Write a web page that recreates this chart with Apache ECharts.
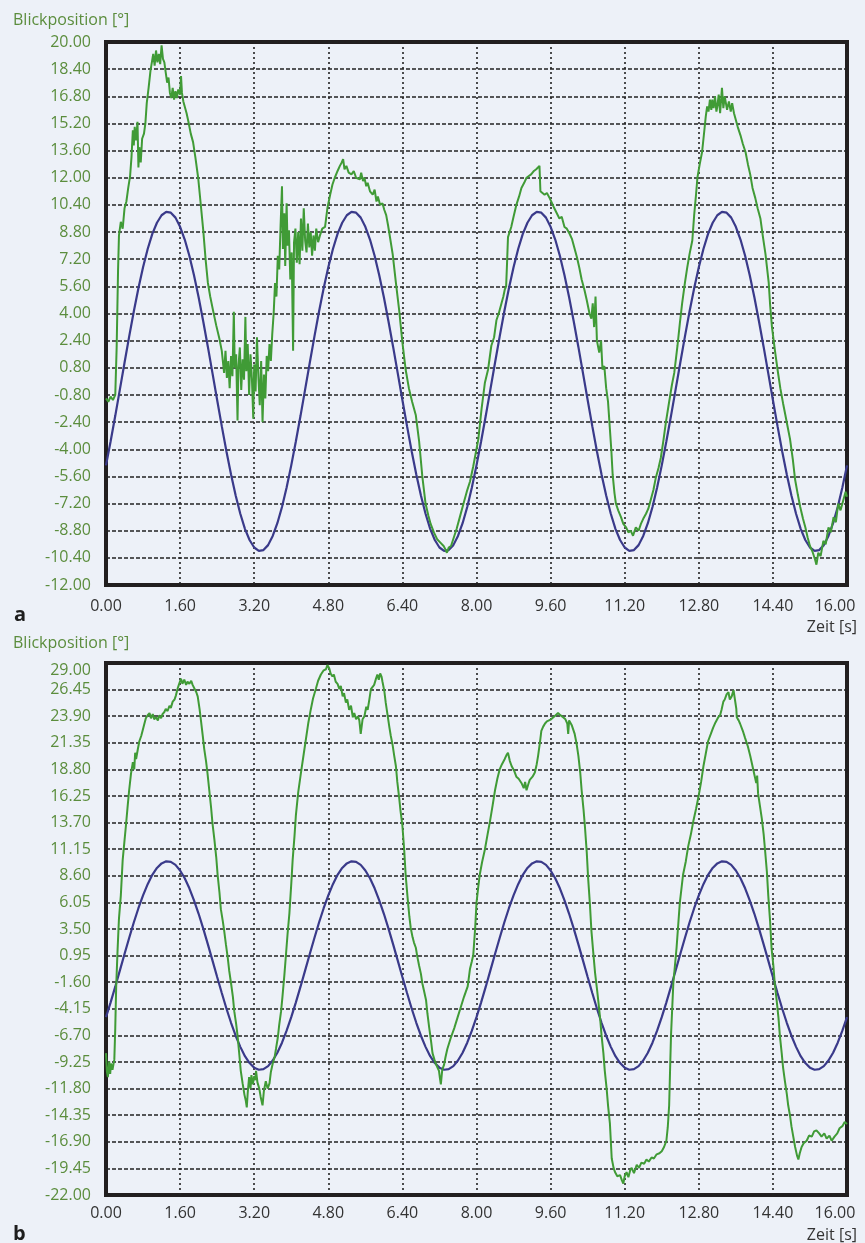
<!DOCTYPE html>
<html><head><meta charset="utf-8">
<script src="https://cdn.jsdelivr.net/npm/echarts@6/dist/echarts.min.js"></script>
<style>html,body{margin:0;padding:0;background:#edf1f8;}#c{width:865px;height:1243px;}</style>
</head><body><div id="c"></div>
<script>
// time axis of the stimulus curve [s]
const stimulusTime = [0,0.1,0.2,0.3,0.4,0.5,0.6,0.7,0.8,0.9,1.0,1.1,1.2,1.3,1.4,1.5,1.6,1.7,1.8,1.9,
2.0,2.1,2.2,2.3,2.4,2.5,2.6,2.7,2.8,2.9,3.0,3.1,3.2,3.3,3.4,3.5,3.6,3.7,3.8,3.9,
4.0,4.1,4.2,4.3,4.4,4.5,4.6,4.7,4.8,4.9,5.0,5.1,5.2,5.3,5.4,5.5,5.6,5.7,5.8,5.9,
6.0,6.1,6.2,6.3,6.4,6.5,6.6,6.7,6.8,6.9,7.0,7.1,7.2,7.3,7.4,7.5,7.6,7.7,7.8,7.9,
8.0,8.1,8.2,8.3,8.4,8.5,8.6,8.7,8.8,8.9,9.0,9.1,9.2,9.3,9.4,9.5,9.6,9.7,9.8,9.9,
10.0,10.1,10.2,10.3,10.4,10.5,10.6,10.7,10.8,10.9,11.0,11.1,11.2,11.3,11.4,11.5,11.6,11.7,11.8,11.9,
12.0,12.1,12.2,12.3,12.4,12.5,12.6,12.7,12.8,12.9,13.0,13.1,13.2,13.3,13.4,13.5,13.6,13.7,13.8,13.9,
14.0,14.1,14.2,14.3,14.4,14.5,14.6,14.7,14.8,14.9,15.0,15.1,15.2,15.3,15.4,15.5,15.6,15.7,15.8,15.9,16.0];
// stimulus (target) position [°], blue curve
const stimulusA = [
-4.95,-3.53,-2.03,-0.47,1.10,2.64,4.12,5.49,6.73,7.80,8.69,9.35,9.79,9.99,9.94,9.65,9.11,8.36,7.40,6.25,
4.96,3.53,2.03,0.47,-1.10,-2.64,-4.12,-5.49,-6.73,-7.80,-8.69,-9.35,-9.79,-9.99,-9.94,-9.65,-9.11,-8.36,-7.40,-6.25,
-4.95,-3.53,-2.03,-0.47,1.10,2.64,4.12,5.49,6.73,7.80,8.69,9.35,9.79,9.99,9.94,9.65,9.11,8.36,7.40,6.25,
4.96,3.53,2.03,0.47,-1.10,-2.64,-4.12,-5.49,-6.73,-7.80,-8.69,-9.35,-9.79,-9.99,-9.94,-9.65,-9.11,-8.36,-7.40,-6.25,
-4.95,-3.53,-2.03,-0.47,1.10,2.64,4.12,5.49,6.73,7.80,8.69,9.35,9.79,9.99,9.94,9.65,9.11,8.36,7.40,6.25,
4.96,3.53,2.03,0.47,-1.10,-2.64,-4.12,-5.49,-6.73,-7.80,-8.69,-9.35,-9.79,-9.99,-9.94,-9.65,-9.11,-8.36,-7.40,-6.25,
-4.95,-3.53,-2.03,-0.47,1.10,2.64,4.12,5.49,6.73,7.80,8.69,9.35,9.79,9.99,9.94,9.65,9.11,8.36,7.40,6.25,
4.96,3.53,2.03,0.47,-1.10,-2.64,-4.12,-5.49,-6.73,-7.80,-8.69,-9.35,-9.79,-9.99,-9.94,-9.65,-9.11,-8.36,-7.40,-6.25,
-4.95];
const stimulusB = stimulusA;

// gaze position [°], green curve, panel a  ([time s, position °])
const gazeA = [
[0.00,-1.0],[0.05,-1.2],[0.10,-0.9],[0.15,-1.1],[0.20,-0.8],[0.23,2.0],[0.26,6.5],[0.28,8.6],[0.32,9.4],[0.36,9.0],[0.40,10.2],[0.44,10.6],[0.48,11.4],[0.52,12.1],[0.55,13.2],[0.58,14.8],[0.60,13.9],[0.62,15.0],[0.65,14.2],[0.68,15.3],[0.70,12.6],[0.72,13.8],[0.75,12.9],[0.78,14.3],[0.82,14.6],[0.85,15.2],[0.88,16.4],[0.92,17.3],[0.96,18.3],[0.99,18.8],[1.02,19.3],[1.05,18.6],[1.08,19.5],[1.11,18.8],[1.14,19.3],[1.17,18.7],[1.20,19.8],[1.23,19.0],[1.26,18.8],[1.29,18.2],[1.32,17.6],[1.35,17.9],[1.38,17.0],[1.41,16.7],[1.44,17.3],[1.47,16.6],[1.50,17.1],[1.53,16.7],[1.56,17.2],[1.60,16.9],[1.62,18.0],[1.64,17.0],[1.67,16.5],[1.70,16.6],[1.74,15.8],[1.78,15.3],[1.83,14.6],[1.88,14.1],[1.93,13.2],[1.99,12.0],[2.04,10.6],[2.10,8.9],[2.15,7.2],[2.20,5.8],[2.25,5.0],[2.31,4.2],[2.38,3.3],[2.45,2.5],[2.50,1.8],
[2.55,0.5],[2.58,1.8],[2.61,0.2],[2.64,1.2],[2.67,-0.4],[2.70,1.5],[2.73,0.3],[2.76,4.1],[2.78,0.8],[2.81,1.6],[2.84,-2.3],[2.86,0.9],[2.89,2.0],[2.92,-0.5],[2.95,1.3],[2.98,0.1],[3.01,3.8],[3.03,0.6],[3.06,2.2],[3.09,-0.8],[3.12,1.6],[3.15,0.2],[3.18,-2.2],[3.20,1.0],[3.23,-0.6],[3.26,2.6],[3.29,0.3],[3.32,-1.4],[3.35,1.2],[3.38,-2.4],[3.41,0.4],[3.44,-1.0],[3.47,1.5],[3.50,0.6],[3.53,2.2],[3.56,1.2],[3.59,2.8],[3.62,4.0],[3.65,5.8],[3.68,5.0],[3.71,7.4],[3.74,6.6],[3.77,9.2],[3.80,11.5],[3.82,7.8],[3.85,9.9],[3.87,6.8],[3.90,10.5],[3.92,8.0],[3.95,8.9],[3.98,6.0],[4.01,7.6],[4.04,1.8],[4.06,8.2],[4.09,9.0],[4.12,7.0],[4.15,8.8],[4.18,6.9],[4.21,9.6],[4.24,7.7],[4.27,10.2],[4.30,8.3],[4.33,7.6],[4.36,9.3],[4.39,7.9],[4.42,8.8],[4.45,7.4],[4.48,8.6],[4.51,7.7],[4.54,9.0],[4.58,8.2],
[4.62,8.6],[4.67,9.0],[4.73,9.1],[4.78,10.2],[4.84,11.0],[4.89,11.6],[4.94,12.0],[5.00,12.4],[5.05,12.7],[5.09,12.9],[5.12,13.1],[5.15,12.5],[5.19,12.7],[5.24,12.3],[5.30,12.2],[5.35,12.4],[5.40,12.0],[5.44,12.1],[5.48,11.9],[5.51,12.3],[5.55,11.8],[5.58,12.0],[5.62,11.5],[5.65,11.7],[5.70,11.2],[5.76,11.0],[5.80,11.3],[5.84,10.6],[5.87,10.9],[5.92,10.4],[5.97,10.5],[6.01,10.1],[6.05,9.8],[6.09,9.2],[6.12,8.7],[6.19,7.5],[6.26,5.8],[6.33,4.2],[6.40,2.3],[6.47,0.7],[6.54,-0.4],[6.61,-1.2],[6.69,-2.0],[6.76,-3.5],[6.83,-5.6],[6.90,-7.2],[6.96,-7.9],[7.01,-8.4],[7.08,-8.9],[7.15,-9.3],[7.22,-9.5],[7.29,-9.7],[7.33,-9.9],[7.36,-10.1],[7.40,-9.8],[7.45,-9.7],[7.51,-9.2],[7.57,-8.7],[7.64,-8.0],[7.72,-7.2],[7.79,-6.5],[7.86,-5.9],[7.93,-5.0],[8.04,-3.4],[8.11,-1.6],
[8.18,-0.1],[8.25,0.7],[8.32,2.1],[8.38,2.6],[8.43,3.6],[8.48,4.0],[8.54,4.6],[8.58,5.0],[8.61,5.4],[8.64,5.6],[8.66,7.0],[8.68,8.5],[8.75,9.1],[8.80,9.7],[8.86,10.4],[8.92,10.9],[8.97,11.4],[9.03,11.7],[9.08,12.0],[9.13,12.1],[9.18,12.2],[9.24,12.4],[9.29,12.5],[9.33,12.6],[9.36,12.7],[9.38,11.2],[9.42,11.3],[9.47,11.0],[9.52,11.1],[9.58,10.8],[9.63,10.5],[9.68,10.2],[9.72,10.3],[9.79,9.6],[9.84,9.7],[9.90,9.1],[9.95,9.0],[10.01,8.7],[10.06,8.4],[10.11,7.9],[10.17,7.3],[10.22,6.7],[10.27,6.0],[10.33,5.4],[10.38,4.8],[10.44,4.0],[10.48,3.7],[10.51,4.6],[10.54,3.2],[10.57,5.0],[10.60,2.4],[10.65,1.7],[10.69,2.4],[10.72,0.7],[10.76,0.9],[10.80,-0.4],[10.84,-1.2],[10.87,-2.4],[10.91,-4.0],[10.94,-5.5],[10.98,-6.6],[11.01,-7.2],[11.06,-7.6],[11.12,-8.0],[11.17,-8.4],[11.23,-8.6],[11.28,-8.9],[11.33,-8.8],[11.38,-9.1],[11.44,-8.6],[11.50,-8.8],[11.55,-8.4],[11.60,-8.1],[11.66,-7.8],[11.71,-7.5],[11.76,-7.0],[11.82,-6.4],[11.87,-5.7],[11.93,-5.1],[11.98,-4.5],[12.04,-3.4],[12.09,-2.4],[12.16,-1.2],[12.22,-0.2],[12.27,0.5],[12.34,2.1],[12.39,3.4],[12.44,4.6],[12.50,5.8],[12.55,6.7],[12.60,7.5],[12.66,8.3],[12.70,9.8],[12.74,11.0],[12.77,12.0],[12.82,12.8],[12.87,13.5],[12.92,14.8],[12.95,15.6],[12.98,16.2],[13.01,15.9],[13.04,16.6],[13.07,16.0],[13.09,16.6],[13.12,16.1],[13.15,16.8],[13.18,15.9],[13.20,16.2],[13.23,16.9],[13.26,15.8],[13.30,17.3],[13.33,16.1],[13.36,16.8],[13.41,16.0],[13.45,16.5],[13.49,15.9],[13.52,16.4],[13.56,15.8],[13.59,15.8],[13.64,15.0],[13.70,14.5],[13.75,14.0],[13.81,13.5],[13.86,12.8],[13.91,12.2],[13.96,11.4],[14.02,10.8],[14.07,10.2],[14.13,9.6],[14.18,8.6],[14.24,7.5],[14.31,5.8],[14.34,4.5],[14.38,3.2],[14.45,1.7],[14.50,0.7],[14.56,-0.4],[14.62,-1.3],[14.67,-2.0],[14.72,-2.7],[14.77,-3.4],[14.83,-4.6],[14.88,-5.8],[14.94,-6.7],[14.99,-7.4],[15.05,-8.1],[15.10,-8.6],[15.15,-9.2],[15.20,-9.7],[15.25,-10.0],[15.31,-10.5],[15.34,-10.8],[15.38,-10.1],[15.43,-10.3],[15.49,-9.4],[15.54,-9.6],[15.60,-8.6],[15.65,-8.9],[15.71,-8.0],[15.76,-8.3],[15.81,-7.2],[15.86,-7.6],[15.92,-7.0],[15.97,-6.5],[16.00,-6.8]
];

// gaze position [°], green curve, panel b
const gazeB = [
[0.00,-8.4],[0.02,-10.2],[0.04,-10.7],[0.07,-9.2],[0.09,-10.4],[0.11,-9.4],[0.14,-10.0],[0.18,-9.0],[0.20,-6.0],[0.22,-2.0],[0.25,1.5],[0.28,4.5],[0.32,6.7],[0.36,10.1],[0.40,12.0],[0.43,13.4],[0.47,15.4],[0.50,16.8],[0.54,18.4],[0.58,19.5],[0.61,18.8],[0.63,20.4],[0.65,19.8],[0.69,20.8],[0.72,21.5],[0.76,22.0],[0.79,22.5],[0.83,23.2],[0.86,23.7],[0.90,24.0],[0.94,24.2],[0.97,23.7],[1.01,24.1],[1.04,23.6],[1.08,23.8],[1.12,23.5],[1.15,24.0],[1.19,23.7],[1.22,24.1],[1.26,24.3],[1.29,24.6],[1.33,24.4],[1.37,24.9],[1.40,24.7],[1.44,25.3],[1.48,25.5],[1.51,25.9],[1.55,26.6],[1.58,27.0],[1.62,27.5],[1.65,27.0],[1.69,27.4],[1.73,26.9],[1.76,27.2],[1.80,27.0],[1.84,27.3],[1.87,26.9],[1.91,26.9],[1.95,26.2],[1.98,25.8],[2.02,24.6],[2.05,23.5],[2.09,22.0],[2.12,20.8],[2.16,19.6],[2.19,18.5],[2.23,16.8],[2.27,15.1],[2.30,13.6],[2.34,12.1],[2.38,10.4],[2.41,8.7],[2.45,7.0],[2.48,5.4],[2.52,4.3],[2.55,3.4],[2.59,2.0],[2.63,0.7],[2.66,-0.5],[2.70,-1.7],[2.74,-3.0],[2.77,-4.4],[2.81,-5.6],[2.84,-6.7],[2.88,-8.6],[2.91,-10.1],[2.95,-11.3],[2.99,-12.4],[3.02,-13.0],[3.04,-13.6],[3.06,-12.2],[3.09,-10.7],[3.12,-11.8],[3.14,-10.5],[3.17,-11.4],[3.20,-10.6],[3.22,-11.0],[3.24,-10.1],[3.27,-11.2],[3.31,-11.8],[3.34,-12.6],[3.38,-13.4],[3.41,-12.0],[3.45,-11.1],[3.49,-11.8],[3.53,-11.3],[3.56,-10.2],[3.60,-9.4],[3.64,-8.8],[3.67,-8.0],[3.71,-6.9],[3.74,-5.7],[3.78,-4.4],[3.81,-3.0],[3.85,-1.0],[3.88,0.7],[3.92,3.0],[3.96,5.0],[4.00,7.8],[4.03,10.1],[4.07,12.4],[4.10,14.4],[4.15,16.6],[4.21,18.5],[4.27,20.3],[4.32,21.8],[4.37,23.3],[4.42,24.5],[4.47,25.6],[4.53,26.5],[4.58,27.3],[4.64,27.9],[4.70,28.3],[4.75,28.4],[4.78,28.8],[4.82,28.5],[4.85,28.0],[4.89,27.7],[4.92,27.9],[4.96,27.2],[5.00,27.0],[5.04,26.5],[5.07,26.8],[5.11,25.8],[5.14,26.1],[5.18,25.2],[5.21,25.5],[5.25,24.5],[5.29,24.9],[5.33,23.8],[5.36,24.2],[5.40,23.6],[5.44,23.9],[5.47,23.5],[5.50,22.2],[5.54,23.6],[5.58,23.9],[5.62,24.8],[5.65,24.5],[5.69,25.6],[5.72,26.5],[5.76,26.6],[5.79,26.9],[5.83,27.5],[5.86,27.9],[5.89,27.4],[5.92,28.0],[5.95,27.7],[5.97,27.2],[6.01,26.3],[6.04,25.2],[6.08,24.0],[6.12,22.8],[6.15,22.0],[6.19,21.1],[6.22,20.2],[6.26,19.1],[6.29,17.6],[6.33,16.1],[6.36,14.8],[6.40,13.4],[6.44,11.0],[6.47,8.7],[6.51,6.6],[6.55,4.7],[6.58,3.6],[6.62,2.7],[6.65,2.2],[6.69,1.7],[6.72,0.9],[6.76,0.0],[6.80,-0.8],[6.83,-1.7],[6.87,-2.5],[6.91,-3.3],[6.94,-4.6],[6.98,-6.0],[7.02,-7.3],[7.05,-8.4],[7.09,-9.0],[7.12,-9.4],[7.16,-9.8],[7.19,-10.1],[7.21,-10.8],[7.23,-11.4],[7.26,-10.0],[7.30,-9.5],[7.33,-8.8],[7.37,-8.0],[7.44,-7.0],[7.52,-6.0],[7.59,-5.0],[7.66,-4.0],[7.73,-3.0],[7.81,-2.0],[7.86,-0.3],[7.90,0.4],[7.93,1.0],[7.97,3.5],[8.00,6.0],[8.04,7.6],[8.07,8.7],[8.12,9.9],[8.18,11.1],[8.24,12.6],[8.29,13.8],[8.35,15.4],[8.40,16.8],[8.45,17.9],[8.50,18.8],[8.55,19.3],[8.61,19.8],[8.65,20.2],[8.68,20.4],[8.72,19.6],[8.76,19.1],[8.81,18.7],[8.86,18.1],[8.91,17.9],[8.97,17.5],[9.02,17.0],[9.05,17.6],[9.08,16.8],[9.12,17.4],[9.15,17.8],[9.21,18.1],[9.26,18.5],[9.30,19.3],[9.33,20.1],[9.37,21.4],[9.40,22.5],[9.44,22.9],[9.48,23.2],[9.52,23.4],[9.55,23.5],[9.61,23.6],[9.66,23.8],[9.71,24.0],[9.76,24.2],[9.81,24.0],[9.87,23.8],[9.92,23.6],[9.96,23.2],[9.98,22.2],[10.00,23.5],[10.06,23.0],[10.12,22.2],[10.16,21.3],[10.20,20.1],[10.24,18.5],[10.27,16.8],[10.31,15.0],[10.34,13.4],[10.38,10.9],[10.41,8.4],[10.45,5.8],[10.48,3.4],[10.52,1.3],[10.56,-0.7],[10.60,-2.2],[10.63,-3.4],[10.67,-5.1],[10.70,-6.7],[10.74,-8.4],[10.77,-10.1],[10.81,-11.8],[10.84,-13.4],[10.88,-15.1],[10.92,-18.5],[10.96,-19.4],[10.99,-19.8],[11.04,-20.2],[11.10,-20.1],[11.14,-20.6],[11.17,-20.9],[11.20,-20.2],[11.24,-19.8],[11.28,-20.3],[11.32,-19.6],[11.35,-19.4],[11.40,-19.9],[11.46,-19.1],[11.51,-19.4],[11.56,-18.9],[11.62,-19.0],[11.67,-18.6],[11.72,-18.8],[11.78,-18.4],[11.83,-18.5],[11.89,-18.1],[11.95,-18.0],[12.00,-17.8],[12.05,-17.4],[12.10,-16.8],[12.13,-15.5],[12.16,-13.4],[12.18,-10.0],[12.20,-6.7],[12.25,-1.7],[12.32,1.7],[12.39,6.0],[12.46,8.7],[12.52,10.0],[12.57,11.4],[12.63,12.6],[12.68,13.8],[12.74,15.0],[12.79,16.1],[12.85,17.6],[12.90,19.1],[12.95,20.3],[13.00,21.5],[13.06,22.2],[13.11,22.8],[13.16,23.3],[13.22,23.8],[13.26,24.0],[13.29,24.5],[13.33,25.3],[13.36,25.5],[13.40,26.0],[13.44,26.2],[13.47,25.5],[13.51,25.8],[13.55,26.4],[13.58,25.5],[13.61,24.6],[13.62,23.8],[13.66,23.5],[13.69,23.2],[13.75,22.5],[13.80,21.8],[13.86,21.0],[13.91,20.1],[13.96,19.1],[14.01,18.1],[14.04,17.5],[14.06,18.2],[14.08,16.5],[14.12,15.3],[14.16,14.1],[14.20,12.6],[14.23,11.1],[14.27,9.0],[14.30,6.7],[14.34,4.2],[14.37,1.7],[14.41,0.0],[14.44,-1.7],[14.48,-3.3],[14.52,-5.0],[14.55,-6.7],[14.59,-8.4],[14.62,-9.8],[14.66,-11.1],[14.70,-12.3],[14.73,-13.4],[14.77,-14.4],[14.80,-15.4],[14.84,-16.4],[14.88,-17.4],[14.92,-18.2],[14.95,-18.6],[14.98,-18.0],[15.02,-17.4],[15.07,-17.0],[15.13,-16.8],[15.18,-16.3],[15.24,-16.4],[15.29,-15.9],[15.34,-15.8],[15.40,-16.1],[15.45,-16.4],[15.51,-16.1],[15.56,-16.6],[15.62,-16.3],[15.67,-16.8],[15.73,-16.4],[15.79,-16.1],[15.84,-15.6],[15.90,-15.4],[15.95,-15.0],[16.00,-15.2]
];

// axis ranges and tick steps
const xRange = [0, 16], xStep = 1.6;
const yRangeA = [-12, 20], yStepA = 1.6;
const yRangeB = [-22, 29], yStepB = 2.55;
const texts = {yName: 'Blickposition [°]', xName: 'Zeit [s]', panelA: 'a', panelB: 'b'};

const FONT = '"Open Sans", "Noto Sans", sans-serif';
const GREEN_TXT = '#5b8d3d';
const DARK_TXT = '#333333';
const LINE_GREEN = '#409b36';
const LINE_BLUE = '#3a3a8a';

const chart = echarts.init(document.getElementById('c'), null, {renderer: 'canvas'});

function near(a, b) { return Math.abs(a - b) < 1e-6; }

function xAxis(gi, margin) {
  return {
    type: 'value', gridIndex: gi, min: xRange[0], max: xRange[1], interval: xStep,
    axisLine: {show: false}, axisTick: {show: false},
    splitLine: {show: true, lineStyle: {color: '#222222', width: 1.6, type: [2, 3]}},
    axisLabel: {
      margin: margin, fontFamily: FONT, fontSize: 16, color: DARK_TXT,
      formatter: v => near(v, xRange[1]) ? '{m|' + v.toFixed(2) + '}' : v.toFixed(2),
      rich: {m: {fontFamily: FONT, fontSize: 16, color: DARK_TXT, padding: [0, 24, 0, 0]}}
    }
  };
}
function yAxis(gi, range, step, shiftTop) {
  return {
    type: 'value', gridIndex: gi, min: range[0], max: range[1], interval: step,
    axisLine: {show: false}, axisTick: {show: false},
    splitLine: {show: true, lineStyle: {color: '#222222', width: 1.6, type: [4, 2]}},
    axisLabel: {
      margin: 15, fontFamily: FONT, fontSize: 16, color: GREEN_TXT,
      formatter: v => (shiftTop && near(v, range[1])) ? '{t|' + v.toFixed(2) + '}' : v.toFixed(2),
      rich: {t: {fontFamily: FONT, fontSize: 16, color: GREEN_TXT, padding: [14, 0, 0, 0]}}
    }
  };
}

const gridStyle = {show: true, borderColor: '#221e1f', borderWidth: 4, backgroundColor: 'transparent'};

chart.setOption({
  backgroundColor: '#edf1f8',
  animation: false,
  grid: [
    Object.assign({left: 106, top: 42, width: 741, height: 543}, gridStyle),
    Object.assign({left: 106, top: 663, width: 741, height: 532}, gridStyle)
  ],
  xAxis: [xAxis(0, 13), xAxis(1, 10)],
  yAxis: [yAxis(0, yRangeA, yStepA, false), yAxis(1, yRangeB, yStepB, true)],
  series: [
    {type: 'line', xAxisIndex: 0, yAxisIndex: 0, symbol: 'none',
     data: stimulusTime.map((t, i) => [t, stimulusA[i]]),
     lineStyle: {color: LINE_BLUE, width: 2.2}},
    {type: 'line', xAxisIndex: 0, yAxisIndex: 0, symbol: 'none', data: gazeA,
     lineStyle: {color: LINE_GREEN, width: 2}},
    {type: 'line', xAxisIndex: 1, yAxisIndex: 1, symbol: 'none',
     data: stimulusTime.map((t, i) => [t, stimulusB[i]]),
     lineStyle: {color: LINE_BLUE, width: 2.2}},
    {type: 'line', xAxisIndex: 1, yAxisIndex: 1, symbol: 'none', data: gazeB,
     lineStyle: {color: LINE_GREEN, width: 2}}
  ],
  graphic: [
    {type: 'text', style: {x: 13, y: 20, text: texts.yName, fontFamily: FONT, fontSize: 16, fill: GREEN_TXT, align: 'left', verticalAlign: 'middle'}},
    {type: 'text', style: {x: 13, y: 643, text: texts.yName, fontFamily: FONT, fontSize: 16, fill: GREEN_TXT, align: 'left', verticalAlign: 'middle'}},
    {type: 'text', style: {x: 857, y: 627, text: texts.xName, fontFamily: FONT, fontSize: 16, fill: DARK_TXT, align: 'right', verticalAlign: 'middle'}},
    {type: 'text', style: {x: 857, y: 1235, text: texts.xName, fontFamily: FONT, fontSize: 16, fill: DARK_TXT, align: 'right', verticalAlign: 'middle'}},
    {type: 'text', style: {x: 14, y: 615, text: texts.panelA, fontFamily: FONT, fontSize: 20, fontWeight: 'bold', fill: '#1e1e1e', align: 'left', verticalAlign: 'middle'}},
    {type: 'text', style: {x: 13, y: 1234, text: texts.panelB, fontFamily: FONT, fontSize: 20, fontWeight: 'bold', fill: '#1e1e1e', align: 'left', verticalAlign: 'middle'}}
  ]
});
</script></body></html>
